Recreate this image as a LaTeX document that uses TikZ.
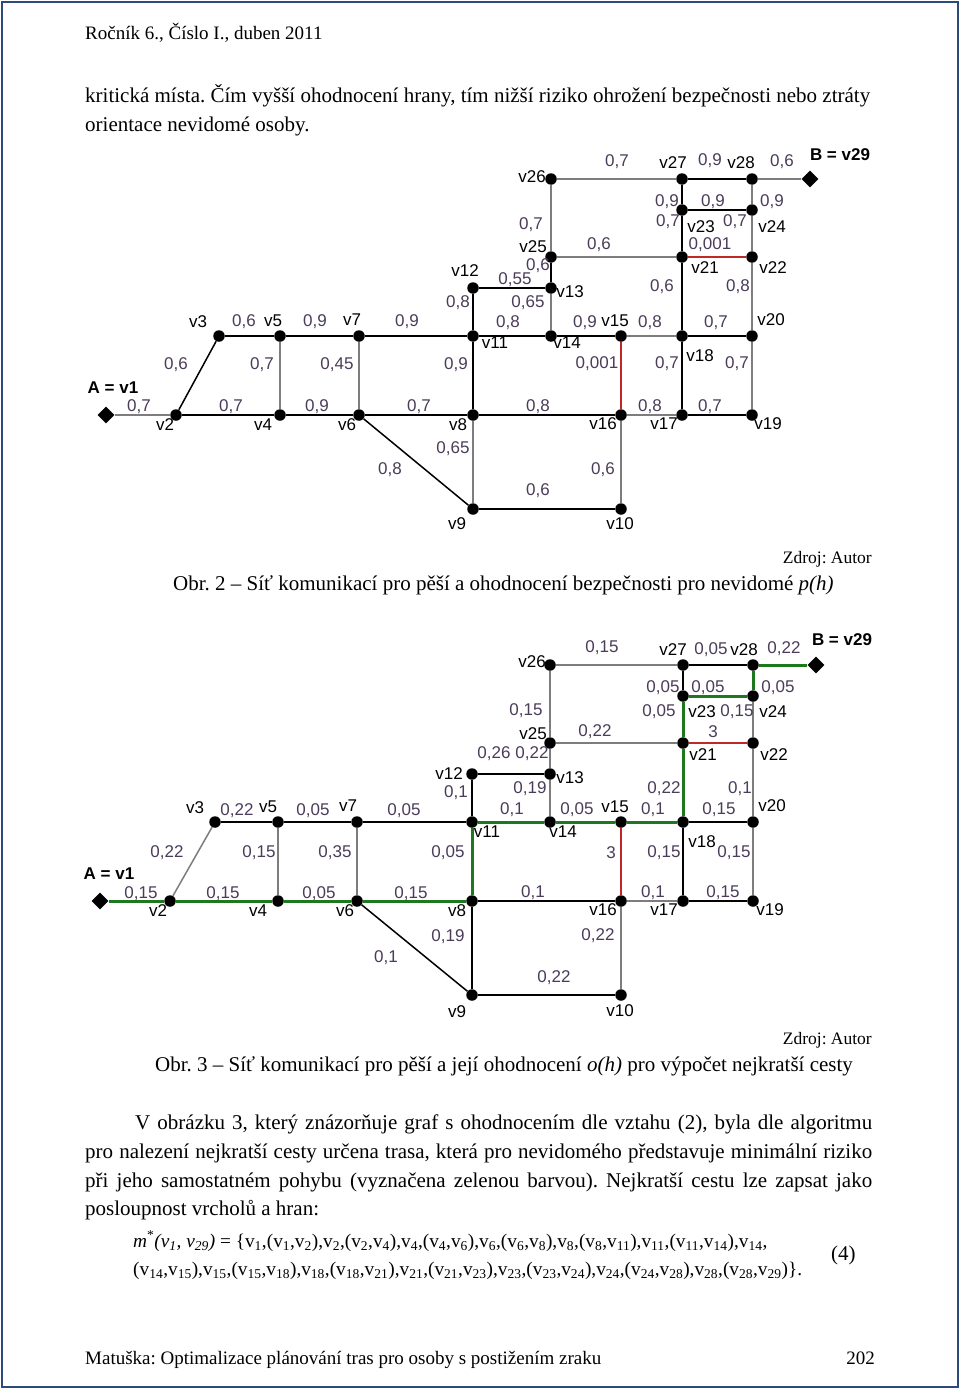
\documentclass[tikz,border=0pt]{standalone}
\usepackage{fontspec}
\setmainfont{Liberation Serif}
\newfontfamily\gf{Liberation Sans}
\usetikzlibrary{shapes.geometric}
\frenchspacing
\definecolor{framec}{RGB}{45,75,120}
\definecolor{labc}{RGB}{75,60,90}
\definecolor{grn}{RGB}{30,120,30}
\definecolor{redl}{RGB}{190,40,40}
\definecolor{gry}{RGB}{125,125,125}
\newcommand\vs[1]{v\textsubscript{#1}}
\tikzset{
 dot/.style={circle,fill=black,inner sep=0,minimum size=11.5pt},
 term/.style={diamond,fill=black,inner sep=0,minimum size=17pt},
 eb/.style={draw=black,line width=1.5pt},
 eg/.style={draw=gry,line width=1.5pt},
 er/.style={draw=redl,line width=1.5pt},
 egr/.style={draw=grn,line width=3pt},
 lab/.style={font=\gf\fontsize{17}{17}\selectfont,text=labc,inner sep=0},
 vl/.style={font=\gf\fontsize{17}{17}\selectfont,text=black,inner sep=0},
 bl/.style={font=\gf\bfseries\fontsize{17}{17}\selectfont,inner sep=0},
 hd/.style={font=\fontsize{19}{23}\selectfont\frenchspacing,inner sep=0,anchor=base west},
 txt/.style={font=\fontsize{21}{25}\selectfont\frenchspacing,inner sep=0,anchor=base west},
 captext/.style={font=\fontsize{21}{25}\selectfont\frenchspacing,inner sep=0,anchor=base west},
 src/.style={font=\fontsize{17.5}{21}\selectfont,inner sep=0,anchor=base east},
 hdr/.style={font=\fontsize{19}{23}\selectfont,inner sep=0,anchor=base east},
 frm/.style={font=\fontsize{19.3}{23}\selectfont,inner sep=0,anchor=base west},
}
\begin{document}
\begin{tikzpicture}[x=1pt,y=-1pt]
\useasboundingbox (0,0) rectangle (960,1389);
\fill[white] (0,0) rectangle (960,1389);
\draw[framec,line width=2.5pt] (2,2) rectangle (958,1387);

% ---------- texts ----------
\node[hd] (hdrtext) at (85,40) {Ročník 6., Číslo I., duben 2011};
\node[txt] (p1) at (85,102) {\makebox[785pt][s]{kritická místa. Čím vyšší ohodnocení hrany, tím nižší riziko ohrožení bezpečnosti nebo ztráty}};
\node[txt] (p2) at (85,131) {orientace nevidomé osoby.};
\node[src] (z1) at (872,563) {Zdroj: Autor};
\node[captext] (c1) at (173,590) {Obr. 2 -- Síť komunikací pro pěší a ohodnocení bezpečnosti pro nevidomé \textit{p(h)}};
\node[src] (z2) at (872,1044) {Zdroj: Autor};
\node[captext] (c2) at (155,1071) {Obr. 3 -- Síť komunikací pro pěší a její ohodnocení \textit{o(h)} pro výpočet nejkratší cesty};
\node[txt] (q1) at (135,1129) {\makebox[737pt][s]{V obrázku 3, který znázorňuje graf s ohodnocením dle vztahu (2), byla dle algoritmu}};
\node[txt] (q2) at (85,1158) {\makebox[787pt][s]{pro nalezení nejkratší cesty určena trasa, která pro nevidomého představuje minimální riziko}};
\node[txt] (q3) at (85,1187) {\makebox[787pt][s]{při jeho samostatném pohybu (vyznačena zelenou barvou). Nejkratší cestu lze zapsat jako}};
\node[txt] (q4) at (85,1215) {posloupnost vrcholů a hran:};
\node[frm] (f1) at (133,1247) {\textit{m}\textsuperscript{*}\textit{(v\textsubscript{1}, v\textsubscript{29})} = \{\vs{1},(\vs{1},\vs{2}),\vs{2},(\vs{2},\vs{4}),\vs{4},(\vs{4},\vs{6}),\vs{6},(\vs{6},\vs{8}),\vs{8},(\vs{8},\vs{11}),\vs{11},(\vs{11},\vs{14}),\vs{14},};
\node[frm] (f2) at (133,1275) {(\vs{14},\vs{15}),\vs{15},(\vs{15},\vs{18}),\vs{18},(\vs{18},\vs{21}),\vs{21},(\vs{21},\vs{23}),\vs{23},(\vs{23},\vs{24}),\vs{24},(\vs{24},\vs{28}),\vs{28},(\vs{28},\vs{29})\}.};
\node[txt] (eq) at (831,1260) {(4)};
\node[hd] (ft) at (85,1364) {Matuška: Optimalizace plánování tras pro osoby s postižením zraku};
\node[hdr] (pg) at (875,1364) {202};

% ---------- top graph ----------
\node[term] (a1) at (106,415) {};
\node[term] (a29) at (810,179) {};
\foreach \n/\x/\y in {2/176/415,3/219/336,4/280/415,5/280/336,6/359/415,7/359/336,8/473/415,9/473/509,10/621/509,11/473/336,12/473/288,13/551/288,14/551/336,15/621/336,16/621/415,17/682/415,18/682/336,19/752/415,20/752/336,21/682/257,22/752/257,23/682/210,24/752/210,25/551/257,26/551/179,27/682/179,28/752/179}
  \node[dot] (a\n) at (\x,\y) {};
\foreach \a/\b/\s in {1/2/eg,2/3/eb,2/4/eb,3/5/eb,5/4/eg,4/6/eb,5/7/eb,7/6/eg,6/8/eb,7/11/eb,8/11/eb,6/9/eb,8/9/eg,8/16/eb,9/10/eb,16/10/eg,11/12/eb,12/13/eb,11/14/eb,13/14/eg,13/25/eb,14/15/eb,15/16/er,15/18/eg,16/17/eg,17/18/eb,17/19/eb,18/20/eb,20/19/eg,18/21/eb,25/21/eg,25/26/eg,26/27/eg,27/28/eb,28/29/eg,27/23/eb,23/21/eb,23/24/eb,24/28/eg,24/22/eg,21/22/er,22/20/eg}
  \draw[\s] (a\a) -- (a\b);
\foreach \t/\x/\y [count=\i] in {v3/198/322,v5/273/321,v7/352/320,v2/165/425,v4/263/425,v6/347/425,v8/458/425,v9/457/524,v10/620/524,v11/495/343,v14/567/343,v15/615/321,v18/700/356,v20/771/320,v16/603/424,v17/664/424,v19/768/424,v12/465/271,v13/570/292,v21/705/268,v22/773/268,v23/701/227,v24/772/227,v25/533/247,v26/532/177,v27/673/163,v28/741/163}
  \node[vl] (na\i) at (\x,\y) {\t};
\node[bl] (ta) at (113,388) {A = v1};
\node[bl] (tb) at (840,155) {B = v29};
\foreach \t/\x/\y [count=\i] in {{0,6}/244/322,{0,9}/315/322,{0,9}/407/322,{0,6}/176/365,{0,7}/262/365,{0,45}/337/365,{0,9}/456/365,{0,7}/139/407,{0,7}/231/407,{0,9}/317/407,{0,7}/419/407,{0,65}/453/449,{0,8}/390/470,{0,8}/508/323,{0,9}/585/323,{0,8}/650/323,{0,7}/716/323,{0,001}/597/364,{0,7}/667/364,{0,7}/737/364,{0,8}/538/407,{0,8}/650/407,{0,7}/710/407,{0,6}/603/470,{0,6}/538/491,{0,7}/617/162,{0,9}/710/161,{0,6}/782/162,{0,9}/667/202,{0,9}/713/202,{0,9}/772/202,{0,7}/531/225,{0,7}/668/222,{0,7}/735/222,{0,6}/599/245,{0,001}/710/245,{0,6}/538/266,{0,55}/515/280,{0,6}/662/287,{0,8}/738/287,{0,65}/528/303,{0,8}/458/303}
  \node[lab] (la\i) at (\x,\y) {\t};

% ---------- bottom graph ----------
\node[term] (b1) at (100,901) {};
\node[term] (b29) at (816,665) {};
\foreach \n/\x/\y in {2/170/901,3/215/822,4/278/901,5/278/822,6/357/901,7/357/822,8/472/901,9/472/995,10/621/995,11/472/822,12/472/774,13/550/774,14/550/822,15/621/822,16/621/901,17/683/901,18/683/822,19/753/901,20/753/822,21/683/743,22/753/743,23/683/696,24/753/696,25/550/743,26/550/665,27/683/665,28/753/665}
  \node[dot] (b\n) at (\x,\y) {};
\foreach \a/\b/\s in {1/2/egr,2/3/eg,2/4/egr,3/5/eb,5/4/eg,4/6/egr,5/7/eb,7/6/eg,6/8/egr,7/11/eb,8/11/egr,6/9/eb,8/9/eb,8/16/eb,9/10/eb,16/10/eg,11/12/eb,12/13/eb,11/14/egr,13/14/eg,13/25/eg,14/15/egr,15/16/er,15/18/egr,16/17/eg,17/18/eb,17/19/eb,18/20/eb,20/19/eg,18/21/egr,25/21/eg,25/26/eg,26/27/eg,27/28/eb,28/29/egr,27/23/eb,23/21/egr,23/24/egr,24/28/egr,24/22/eg,21/22/er,22/20/eg}
  \draw[\s] (b\a) -- (b\b);
\foreach \t/\x/\y [count=\i] in {v3/195/808,v5/268/807,v7/348/806,v12/449/774,v2/158/911,v4/258/911,v6/345/911,v8/457/911,v9/457/1012,v11/487/832,v14/563/832,v15/615/807,v18/702/842,v20/772/806,v16/603/910,v17/664/910,v19/770/910,v10/620/1011,v27/673/650,v28/744/650,v26/532/662,v23/702/712,v24/773/712,v25/533/734,v21/703/755,v22/774/755,v13/570/778}
  \node[vl] (nb\i) at (\x,\y) {\t};
\node[bl] (tc) at (109,874) {A = v1};
\node[bl] (td) at (842,640) {B = v29};
\foreach \t/\x/\y [count=\i] in {{0,22}/237/811,{0,05}/313/811,{0,05}/404/811,{0,1}/456/793,{0,22}/167/853,{0,15}/259/853,{0,35}/335/853,{0,05}/448/853,{0,15}/141/894,{0,15}/223/894,{0,05}/319/894,{0,15}/411/894,{0,19}/448/937,{0,1}/386/958,{0,1}/512/810,{0,05}/577/810,{0,1}/653/810,{0,15}/719/810,3/611/853,{0,15}/664/853,{0,15}/734/853,{0,1}/533/893,{0,1}/653/893,{0,15}/723/893,{0,22}/598/936,{0,22}/554/978,{0,15}/602/648,{0,05}/711/650,{0,22}/784/649,{0,05}/663/688,{0,05}/708/688,{0,05}/778/688,{0,15}/526/711,{0,05}/659/712,{0,15}/737/712,{0,22}/595/732,3/713/732,{0,26}/494/754,{0,22}/532/754,{0,19}/530/789,{0,22}/664/789,{0,1}/740/789}
  \node[lab] (lb\i) at (\x,\y) {\t};
\end{tikzpicture}
\end{document}
